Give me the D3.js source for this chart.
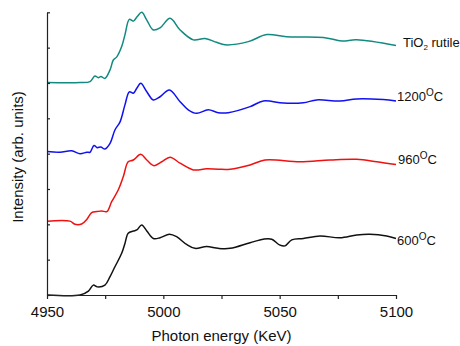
<!DOCTYPE html>
<html>
<head>
<meta charset="utf-8">
<script src="https://cdn.jsdelivr.net/npm/d3@7"></script>
<style>
  body { margin: 0; background: #fff; }
  svg { font-family: Arial, "Liberation Sans", sans-serif; }
  .axis path, .axis line { stroke: #222; stroke-width: 1.2; }
  .axis text { font-size: 15px; fill: #111; }
</style>
</head>
<body>
<svg id="chart" width="460" height="346"></svg>
<script>
// energies (KeV) and intensities, one pair of arrays per curve
var rutile_e = [4950, 4964.2, 4968.5, 4970.6, 4972.0, 4973.2, 4974.9, 4977.1, 4978.5, 4980.0, 4982.1, 4983.5, 4985.4, 4987.1, 4988.8, 4990.7, 4992.9, 4995.7, 4998.6, 5002.9, 5007.2, 5012.9, 5017.9, 5022.9, 5026.5, 5036.5, 5044.4, 5053.0, 5068.8, 5076.7, 5083.1, 5100]
var rutile_v = [6.01, 6.01, 6.04, 6.20, 6.15, 6.18, 6.13, 6.37, 6.65, 6.74, 7.03, 7.36, 7.80, 7.75, 7.88, 8.00, 7.78, 7.50, 7.56, 7.83, 7.50, 7.22, 7.26, 7.15, 7.08, 7.17, 7.37, 7.31, 7.29, 7.19, 7.22, 7.06]

var t1200_e = [4950, 4955.6, 4960.6, 4964.2, 4967.1, 4968.5, 4970.2, 4971.6, 4973.1, 4974.9, 4977.1, 4979.2, 4981.4, 4983.5, 4985.4, 4987.1, 4988.6, 4990.3, 4992.9, 4995.7, 4998.6, 5002.6, 5007.2, 5010.7, 5014.3, 5019.3, 5023.6, 5027.9, 5037.3, 5043.0, 5051.6, 5060.2, 5065.9, 5075.9, 5083.1, 5094.5, 5100]
var t1200_v = [4.06, 4.04, 4.08, 4.00, 4.04, 4.04, 4.23, 4.17, 4.19, 4.13, 4.29, 4.67, 4.90, 5.38, 5.75, 5.71, 5.85, 5.99, 5.75, 5.52, 5.61, 5.80, 5.47, 5.24, 5.14, 5.24, 5.16, 5.16, 5.33, 5.49, 5.43, 5.44, 5.52, 5.49, 5.55, 5.53, 5.49]

var t960_e = [4950, 4959.9, 4962.0, 4964.9, 4967.1, 4969.2, 4971.4, 4973.5, 4975.7, 4977.8, 4980.6, 4982.8, 4984.9, 4987.1, 4990.3, 4992.9, 4996.0, 4999.3, 5002.9, 5007.2, 5012.9, 5018.6, 5023.6, 5028.7, 5037.3, 5043.7, 5058.7, 5071.6, 5083.1, 5091.7, 5100]
var t960_v = [2.09, 2.09, 2.00, 2.01, 2.14, 2.33, 2.36, 2.38, 2.36, 2.64, 2.97, 3.35, 3.77, 3.82, 3.98, 3.82, 3.66, 3.77, 3.90, 3.73, 3.54, 3.57, 3.56, 3.56, 3.68, 3.82, 3.77, 3.82, 3.84, 3.77, 3.69]

var t600_e = [4950, 4964.2, 4967.8, 4969.9, 4971.6, 4974.9, 4977.1, 4979.2, 4982.1, 4983.5, 4984.9, 4987.1, 4988.6, 4990.7, 4992.9, 4995.7, 4998.6, 5002.6, 5005.7, 5010.0, 5013.6, 5018.6, 5023.6, 5028.7, 5037.3, 5043.0, 5046.6, 5049.9, 5052.3, 5055.2, 5060.2, 5067.3, 5075.9, 5083.1, 5088.8, 5096.0, 5100]
var t600_v = [0, 0, 0.11, 0.28, 0.23, 0.28, 0.52, 0.80, 1.18, 1.46, 1.75, 1.81, 1.84, 1.98, 1.81, 1.60, 1.62, 1.72, 1.65, 1.43, 1.32, 1.37, 1.32, 1.32, 1.48, 1.58, 1.58, 1.42, 1.39, 1.56, 1.60, 1.67, 1.62, 1.70, 1.72, 1.67, 1.60]

var x_ticks = [4950, 4975, 5000, 5025, 5050, 5075, 5100]
var x_labels = [4950, 5000, 5050, 5100]
var y_ticks = [0, 1, 2, 3, 4, 5, 6, 7, 8]

var series = [
  {e: rutile_e, v: rutile_v, color: "#128a80", main: "TiO", sub: "2", tail: " rutile", dx: 7, dy: 1},
  {e: t1200_e, v: t1200_v, color: "#1010f0", main: "1200", sup: "O", tail: "C", dx: 1, dy: 0},
  {e: t960_e, v: t960_v, color: "#f01010", main: "960", sup: "O", tail: "C", dx: 2, dy: -1},
  {e: t600_e, v: t600_v, color: "#111111", main: "600", sup: "O", tail: "C", dx: 1, dy: 7}
]

var svg = d3.select("#chart")
var margin = {left: 47, right: 64, top: 12.3, bottom: 51}
var w = 460 - margin.left - margin.right
var h = 346 - margin.top - margin.bottom

var g = svg.append("g")
  .attr("transform", `translate(${margin.left},${margin.top})`)

var x = d3.scaleLinear().domain([4950, 5100]).range([0, w])
var y = d3.scaleLinear().domain([0, 8]).range([h, 0])

var line = d3.line()
  .x(d => x(d[0]))
  .y(d => y(d[1]))
  .curve(d3.curveCatmullRom.alpha(0.5))

series.forEach(s => {
  var pts = s.e.map((e, i) => [e, s.v[i]])
  g.append("path")
    .datum(pts)
    .attr("fill", "none")
    .attr("stroke", s.color)
    .attr("stroke-width", 1.5)
    .attr("d", line)

  var last = pts[pts.length - 1]
  var t = g.append("text")
    .attr("x", x(last[0]) + s.dx)
    .attr("y", y(last[1]) + s.dy)
    .attr("font-size", 13)
    .attr("fill", "#111")
  t.append("tspan").text(s.main)
  if (s.sub) {
    t.append("tspan").attr("font-size", 8).attr("dy", 3).text(s.sub)
    t.append("tspan").attr("dy", -3).text(s.tail)
  } else {
    t.append("tspan").attr("font-size", 10).attr("dy", -5).text(s.sup)
    t.append("tspan").attr("dy", 5).text(s.tail)
  }
})

// x axis, ticks every 25, labels every 50
g.append("g")
  .attr("class", "axis")
  .attr("transform", `translate(0,${h})`)
  .call(d3.axisBottom(x)
    .tickValues(x_ticks)
    .tickSizeInner(4)
    .tickSizeOuter(0)
    .tickPadding(7.5)
    .tickFormat(d => x_labels.indexOf(d) >= 0 ? d : ""))

// y axis, no labels, ticks pointing inward
g.append("g")
  .attr("class", "axis")
  .call(d3.axisLeft(y)
    .tickValues(y_ticks)
    .tickSizeInner(-3)
    .tickSizeOuter(0)
    .tickFormat(""))

svg.append("text")
  .attr("x", 221.5)
  .attr("y", 341)
  .attr("text-anchor", "middle")
  .attr("font-size", 15)
  .attr("fill", "#111")
  .text("Photon energy (KeV)")

svg.append("text")
  .attr("transform", "translate(23,157) rotate(-90)")
  .attr("text-anchor", "middle")
  .attr("font-size", 15)
  .attr("fill", "#111")
  .text("Intensity (arb. units)")
</script>
</body>
</html>
